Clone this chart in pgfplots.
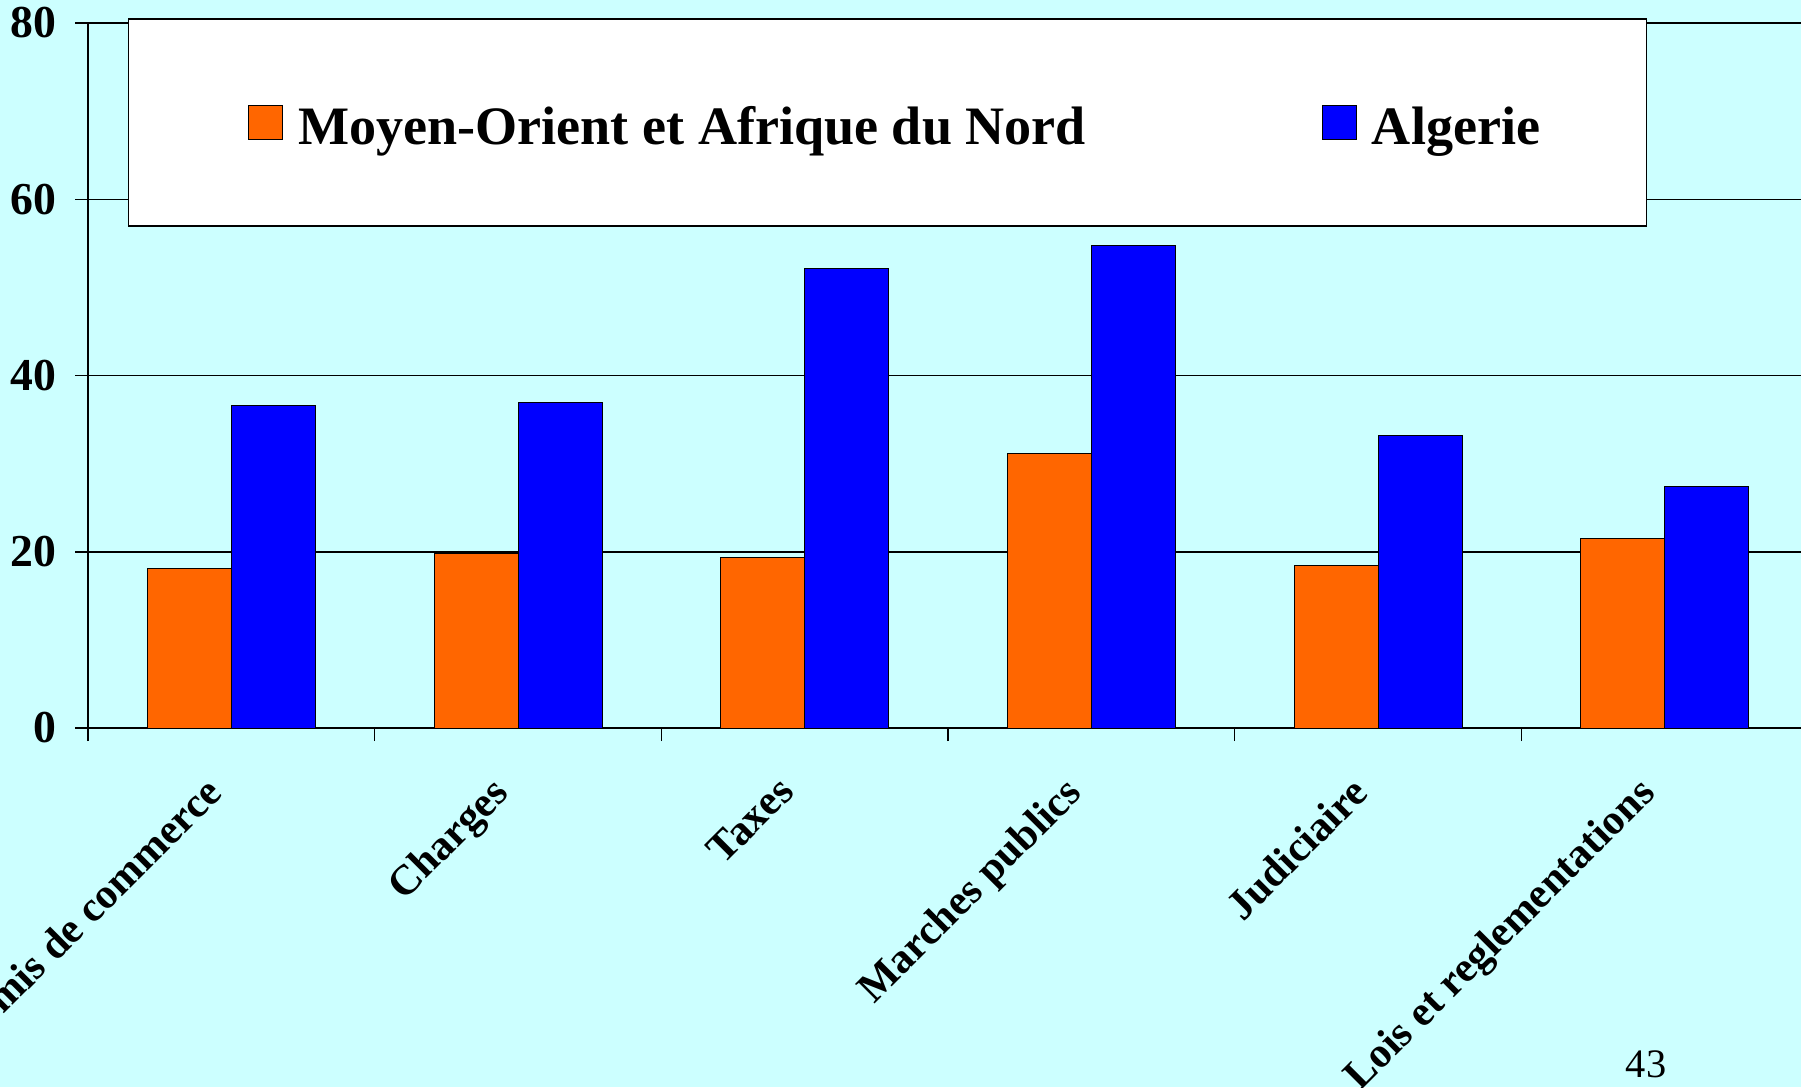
\documentclass[border=0pt]{standalone}
\usepackage{fontspec}
\setmainfont{Liberation Serif}
\usepackage{pgfplots}
\pgfplotsset{compat=1.18}
\definecolor{bgcyan}{HTML}{CCFFFF}
\definecolor{barorange}{HTML}{FF6600}
\definecolor{barblue}{HTML}{0000FF}

\begin{document}
\begin{tikzpicture}
\fill[bgcyan] (0,0) rectangle (180.1mm,108.7mm);
\path[use as bounding box] (0,0) rectangle (180.1mm,108.7mm);
\clip (0,0) rectangle (180.1mm,108.7mm);
\begin{axis}[
    at={(8.8mm,35.9mm)}, anchor=south west,
    scale only axis, width=172mm, height=70.5mm,
    xmin=-0.5, xmax=5.5, ymin=0, ymax=80,
    axis x line*=bottom, axis y line*=left,
    axis line style={line width=0.2mm},
    ytick={0,20,40,60,80},
    ymajorgrids, grid style={black, line width=0.15mm},
    xtick={0,...,5},
    xticklabels={Permis de commerce, Charges, Taxes, Marches publics, Judiciaire, Lois et reglementations},
    minor xtick={-0.5,0.5,...,5.5},
    major x tick style={draw=none},
    tick align=outside, major tick length=1.3mm, minor tick length=1.3mm,
    tick style={black, line width=0.15mm},
    /pgf/number format/assume math mode=true,
    yticklabel style={font=\bfseries\fontsize{13}{15}\selectfont, inner sep=0pt, xshift=-1.8mm},
    xticklabel style={font=\bfseries\fontsize{12}{14}\selectfont,
        xshift=-2.85mm, yshift=-3.25mm, rotate=45, anchor=north east, inner sep=0pt},
    ybar=0pt, bar width=8.4mm,
    legend columns=2,
    legend image code/.code={\draw[#1, draw=black, line width=0.1mm] (0mm,-1.7mm) rectangle (3.4mm,1.7mm);},
    legend style={at={(axis description cs:0,1)}, anchor=north west,
        xshift=3.95mm, yshift=0.5mm, fill=white, draw=black, line width=0.15mm,
        inner xsep=10.6mm, inner ysep=7.65mm,
        font=\bfseries\fontsize{15.4}{18}\selectfont,
        nodes={inner sep=0pt},
        /tikz/every odd column/.append style={column sep=1.5mm},
        /tikz/every even column/.append style={column sep=23.6mm,
            nodes={text height=4.9mm}}},
]
\addplot[fill=barorange, draw=black, line width=0.1mm, bar shift=-4.2mm,
    legend image code/.code={\path (-1.4mm,0);
        \draw[##1, draw=black, line width=0.1mm] (0mm,-1.7mm) rectangle (3.4mm,1.7mm);}] coordinates
  {(0,18.1) (1,19.8) (2,19.4) (3,31.1) (4,18.4) (5,21.5)};
\addplot[fill=barblue, draw=black, line width=0.1mm, bar shift=4.2mm] coordinates
  {(0,36.6) (1,36.9) (2,52.2) (3,54.7) (4,33.2) (5,27.4)};
\legend{Moyen-Orient et Afrique du Nord, Algerie}
\end{axis}
\node[anchor=base, font=\fontsize{11.5}{13}\selectfont] at (164.6mm,0.95mm) {43};
\end{tikzpicture}
\end{document}
